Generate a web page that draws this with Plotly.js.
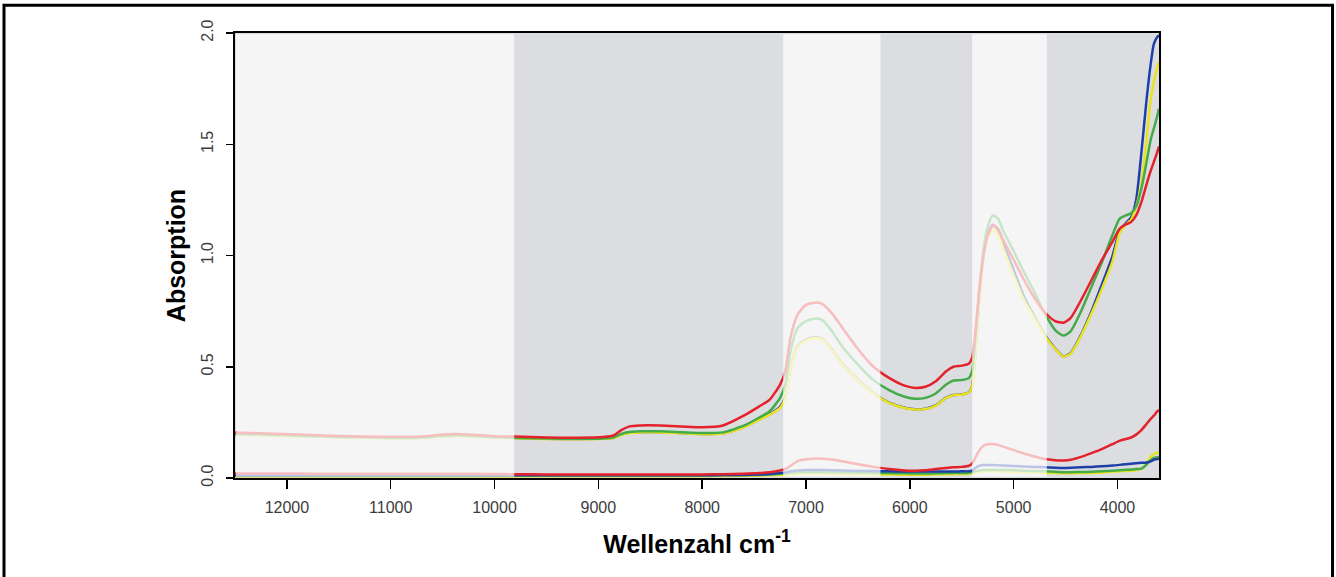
<!DOCTYPE html>
<html>
<head>
<meta charset="utf-8">
<script src="https://cdn.plot.ly/plotly-3.0.1.min.js"></script>
<style>html,body{margin:0;padding:0;background:#fff;}</style>
</head>
<body>
<div id="chart" style="width:1336px;height:577px;"></div>
<script>
// Wavenumber grid (cm^-1)
const wavenumber = [12500,12200,11900,11600,11300,11000,10700,10500,10350,10200,
  10000,9800,9500,9200,8950,8850,8780,8700,8600,8400,
  8200,8000,7800,7600,7450,7350,7250,7200,7150,7080,
  7000,6920,6850,6750,6650,6500,6350,6200,6050,5950,
  5850,5750,5650,5580,5500,5430,5400,5370,5330,5290,
  5250,5200,5150,5100,5000,4900,4800,4700,4600,4520,
  4450,4350,4250,4150,4050,3980,3920,3870,3820,3770,
  3720,3680,3650,3620,3600];

// Upper spectra
const upperRed = [0.205,0.200,0.196,0.190,0.187,0.185,0.186,0.196,0.198,0.194,
  0.188,0.186,0.182,0.181,0.184,0.192,0.215,0.232,0.236,0.236,
  0.232,0.228,0.236,0.280,0.322,0.352,0.420,0.480,0.630,0.735,
  0.778,0.788,0.784,0.740,0.675,0.580,0.500,0.450,0.415,0.405,
  0.410,0.435,0.480,0.500,0.505,0.515,0.540,0.650,0.850,1.000,
  1.090,1.135,1.120,1.070,0.980,0.890,0.810,0.745,0.705,0.698,
  0.720,0.800,0.890,0.980,1.060,1.120,1.140,1.150,1.180,1.240,
  1.320,1.380,1.420,1.460,1.490];
const upperGreen = [0.198,0.195,0.191,0.186,0.183,0.181,0.182,0.190,0.192,0.189,
  0.184,0.181,0.177,0.176,0.178,0.183,0.198,0.207,0.210,0.210,
  0.206,0.202,0.205,0.235,0.272,0.300,0.360,0.420,0.570,0.675,
  0.705,0.716,0.712,0.660,0.590,0.510,0.440,0.395,0.365,0.356,
  0.360,0.380,0.420,0.438,0.440,0.450,0.480,0.620,0.850,1.030,
  1.130,1.180,1.165,1.110,1.020,0.925,0.835,0.740,0.665,0.640,
  0.660,0.750,0.860,0.970,1.090,1.165,1.180,1.190,1.220,1.300,
  1.420,1.520,1.570,1.620,1.660];
const upperYellow = [0.195,0.192,0.188,0.184,0.181,0.179,0.180,0.187,0.189,0.186,
  0.182,0.179,0.175,0.174,0.176,0.180,0.193,0.202,0.205,0.205,
  0.201,0.197,0.200,0.228,0.262,0.285,0.315,0.360,0.490,0.590,
  0.620,0.629,0.625,0.575,0.510,0.440,0.380,0.338,0.315,0.308,
  0.310,0.325,0.360,0.372,0.375,0.385,0.410,0.550,0.800,1.000,
  1.080,1.115,1.090,1.030,0.910,0.800,0.720,0.640,0.580,0.545,
  0.560,0.640,0.740,0.850,0.970,1.100,1.140,1.160,1.220,1.320,
  1.520,1.700,1.780,1.840,1.870];
const upperBlue = [0.196,0.193,0.189,0.185,0.182,0.180,0.181,0.188,0.190,0.187,
  0.183,0.180,0.176,0.175,0.177,0.181,0.195,0.204,0.206,0.206,
  0.202,0.198,0.201,0.229,0.263,0.287,0.320,0.362,0.492,0.592,
  0.622,0.631,0.627,0.577,0.512,0.441,0.381,0.339,0.316,0.309,
  0.311,0.326,0.361,0.373,0.376,0.386,0.412,0.555,0.810,1.010,
  1.100,1.138,1.115,1.055,0.935,0.815,0.725,0.643,0.582,0.546,
  0.562,0.645,0.750,0.870,0.995,1.110,1.145,1.170,1.250,1.460,
  1.700,1.860,1.950,1.980,1.990];

// Lower spectra
const lowerRed = [0.020,0.020,0.020,0.019,0.019,0.019,0.019,0.019,0.019,0.019,
  0.018,0.017,0.016,0.016,0.016,0.016,0.016,0.016,0.016,0.016,
  0.016,0.016,0.017,0.019,0.022,0.026,0.034,0.040,0.055,0.076,
  0.084,0.087,0.087,0.083,0.075,0.062,0.050,0.040,0.034,0.033,
  0.035,0.040,0.045,0.048,0.050,0.055,0.065,0.090,0.125,0.145,
  0.152,0.153,0.149,0.141,0.125,0.110,0.097,0.085,0.080,0.079,
  0.082,0.095,0.112,0.130,0.152,0.167,0.175,0.182,0.195,0.215,
  0.243,0.266,0.280,0.298,0.305];
const lowerBlue = [0.012,0.012,0.012,0.012,0.012,0.012,0.012,0.012,0.012,0.012,
  0.012,0.012,0.012,0.012,0.012,0.012,0.012,0.012,0.012,0.012,
  0.012,0.012,0.013,0.014,0.016,0.018,0.022,0.025,0.030,0.034,
  0.036,0.036,0.036,0.035,0.034,0.032,0.031,0.030,0.029,0.029,
  0.029,0.029,0.029,0.029,0.030,0.030,0.033,0.045,0.055,0.058,
  0.058,0.058,0.057,0.056,0.054,0.052,0.050,0.048,0.046,0.045,
  0.046,0.048,0.050,0.053,0.056,0.059,0.062,0.064,0.066,0.068,
  0.070,0.075,0.082,0.085,0.087];
const lowerGreen = [0.011,0.011,0.011,0.011,0.011,0.011,0.011,0.011,0.011,0.011,
  0.011,0.011,0.011,0.011,0.011,0.011,0.011,0.011,0.011,0.011,
  0.011,0.011,0.012,0.013,0.014,0.016,0.019,0.021,0.024,0.026,
  0.027,0.027,0.027,0.026,0.025,0.024,0.023,0.022,0.021,0.020,
  0.020,0.021,0.022,0.023,0.023,0.024,0.026,0.030,0.034,0.036,
  0.036,0.036,0.036,0.036,0.035,0.033,0.031,0.030,0.028,0.026,
  0.026,0.027,0.028,0.030,0.033,0.035,0.037,0.038,0.040,0.042,
  0.060,0.080,0.090,0.093,0.095];
const lowerYellow = [0.008,0.008,0.008,0.008,0.008,0.008,0.008,0.008,0.008,0.008,
  0.008,0.008,0.008,0.008,0.008,0.008,0.008,0.008,0.008,0.008,
  0.008,0.008,0.009,0.010,0.011,0.012,0.014,0.015,0.017,0.019,
  0.020,0.020,0.020,0.019,0.018,0.017,0.016,0.016,0.015,0.015,
  0.015,0.016,0.017,0.018,0.018,0.019,0.020,0.024,0.028,0.030,
  0.030,0.030,0.030,0.029,0.028,0.026,0.025,0.024,0.022,0.021,
  0.021,0.022,0.023,0.025,0.028,0.030,0.032,0.033,0.036,0.040,
  0.065,0.095,0.108,0.113,0.115];

// Highlighted (light) wavenumber bands
const lightBands = [[12500, 9810], [7220, 6283], [5400, 4680]];

const xTicks = [12000, 11000, 10000, 9000, 8000, 7000, 6000, 5000, 4000];
const yTicks = [0, 0.5, 1, 1.5, 2];
const yTickText = ['0.0', '0.5', '1.0', '1.5', '2.0'];

const COLORS = {red: '#e3222b', green: '#44ab4a', yellow: '#e9e21f', blue: '#1f3fa8'};

function tr(y, color) {
  return {x: wavenumber, y: y, type: 'scatter', mode: 'lines',
    line: {color: color, width: 2.5, shape: 'spline', smoothing: 0.6},
    hoverinfo: 'skip', showlegend: false};
}

const data = [
  tr(lowerYellow, COLORS.yellow), tr(lowerGreen, COLORS.green),
  tr(lowerBlue, COLORS.blue), tr(lowerRed, COLORS.red),
  tr(upperBlue, COLORS.blue), tr(upperYellow, COLORS.yellow),
  tr(upperGreen, COLORS.green), tr(upperRed, COLORS.red)
];

const shapes = lightBands.map(b => ({
  type: 'rect', xref: 'x', yref: 'paper',
  x0: b[0] === 12500 ? 12490 : b[0], x1: b[1], y0: 0.003, y1: 0.997,
  fillcolor: 'rgba(255,255,255,0.70)', line: {width: 0}, layer: 'above'
}));
shapes.push({type: 'rect', xref: 'paper', yref: 'paper',
  x0: -0.25, x1: 1.1878, y0: -0.35, y1: 1.0622,
  line: {color: '#000', width: 3}, fillcolor: 'rgba(0,0,0,0)', layer: 'above'});

const tickFont = {family: 'Liberation Sans, Arial, sans-serif', size: 16, color: '#3c3c3c'};
const titleFont = {family: 'Liberation Sans, Arial, sans-serif', size: 25, color: '#000', weight: 'bold'};

const layout = {
  width: 1336, height: 577,
  margin: {l: 235, r: 177, t: 33, b: 99},
  paper_bgcolor: '#ffffff', plot_bgcolor: '#dcdde0',
  xaxis: {
    range: [12500, 3600], tickvals: xTicks, ticktext: xTicks.map(String),
    ticks: 'outside', ticklen: 9, tickwidth: 1.5, tickcolor: '#000',
    showline: true, linecolor: '#000', linewidth: 2, mirror: true,
    showgrid: false, zeroline: false, tickfont: tickFont, ticklabelstandoff: 5,
    title: {text: '<b>Wellenzahl cm<sup>-1</sup></b>', font: titleFont, standoff: 20}
  },
  yaxis: {
    range: [0, 2], tickvals: yTicks, ticktext: yTickText, tickangle: -90,
    ticks: 'outside', ticklen: 7, tickwidth: 1.5, tickcolor: '#000',
    showline: true, linecolor: '#000', linewidth: 2, mirror: true,
    showgrid: false, zeroline: false, tickfont: tickFont, ticklabelstandoff: 7,
    title: {text: '<b>Absorption</b>', font: titleFont, standoff: 6}
  },
  shapes: shapes
};

Plotly.newPlot('chart', data, layout, {staticPlot: true, displayModeBar: false});
</script>
</body>
</html>
